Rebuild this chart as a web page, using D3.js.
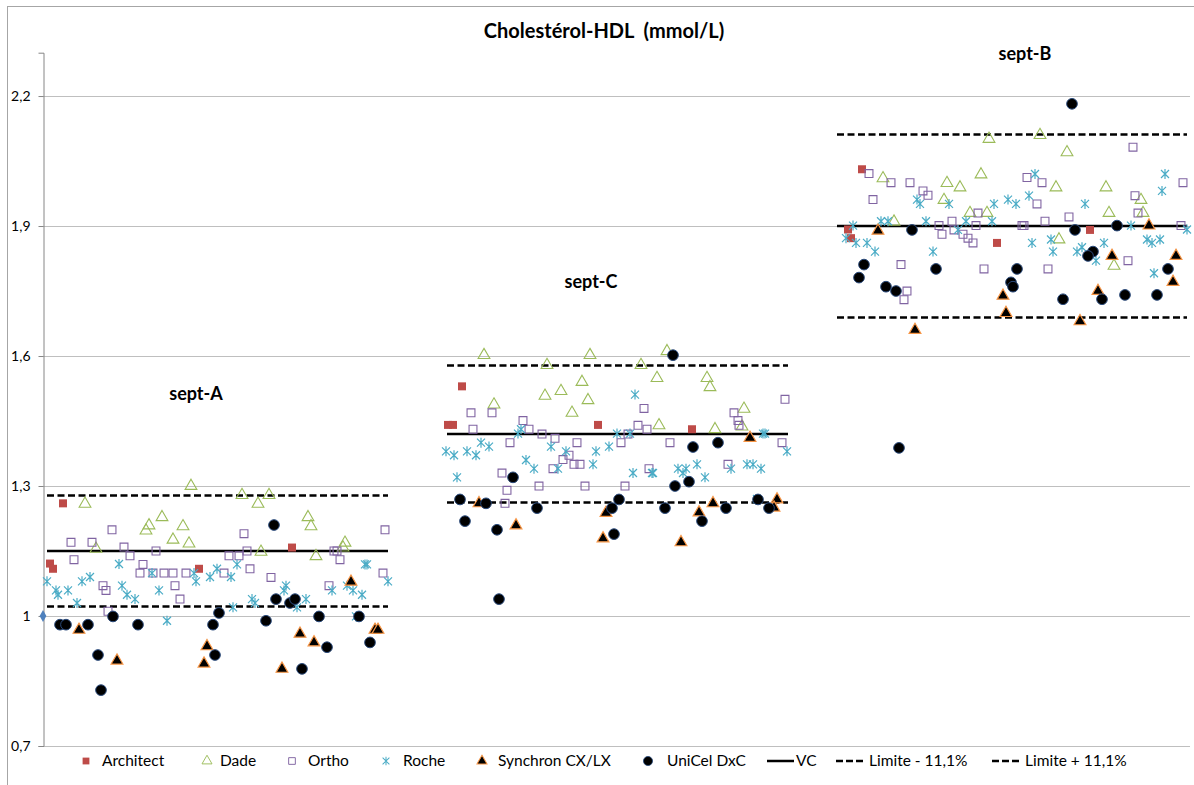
<!DOCTYPE html>
<html>
<head>
<meta charset="utf-8">
<script src="https://cdn.jsdelivr.net/npm/d3@7"></script>
<style>
  body { margin: 0; background: #fff; }
  #chart { width: 1194px; height: 785px; }
  text { font-family: Lato, "Open Sans", sans-serif; fill: #000; }
  .tick-label { font-size: 14px; }
  .legend text { font-size: 15.5px; }
  .title { font-size: 20px; font-weight: bold; white-space: pre; }
  .group-label { font-size: 18px; font-weight: bold; }
</style>
</head>
<body>
<div id="chart"></div>
<script>
// --- data ----------------------------------------------------------------
// x = rank of the lab inside its survey (no axis shown), y = mmol/L
var groups = ['sept-A', 'sept-C', 'sept-B'];
var groupStart = [0.4, 40.4, 79.4];
var groupEnd = [34.5, 74.5, 114.4];
var vcValues = [1.15, 1.42, 1.90];
var lowLimit = [1.022, 1.262, 1.689];
var highLimit = [1.278, 1.578, 2.111];
var groupLabelRank = [15.3, 54.8, 98.2];
var groupLabelValue = [1.498, 1.757, 2.284];
var yTicks = [0.7, 1.0, 1.3, 1.6, 1.9, 2.2];

var architect = [
  [2.0, 1.260], [0.7, 1.121], [1.0, 1.109], [15.6, 1.109], [24.9, 1.158],
  [41.9, 1.530], [40.5, 1.441], [41.0, 1.441], [55.5, 1.441], [64.9, 1.431],
  [81.9, 2.031], [80.5, 1.892], [80.8, 1.872], [95.4, 1.861], [104.7, 1.891]
];

var dade = [
  [14.8, 1.300], [4.2, 1.259], [11.9, 1.228], [10.6, 1.209], [10.3, 1.197],
  [14.0, 1.207], [13.0, 1.176], [14.6, 1.167], [5.3, 1.155], [19.9, 1.279],
  [22.6, 1.279], [21.5, 1.259], [26.5, 1.228], [26.8, 1.207], [21.8, 1.148],
  [27.3, 1.138], [30.2, 1.169], [30.0, 1.158],
  [44.1, 1.602], [50.4, 1.579], [54.7, 1.602], [53.9, 1.540], [51.8, 1.519],
  [50.2, 1.508], [54.5, 1.498], [52.9, 1.469], [45.1, 1.488], [62.4, 1.611],
  [59.8, 1.579], [61.4, 1.549], [66.4, 1.549], [66.7, 1.528], [70.1, 1.478],
  [61.6, 1.440], [67.2, 1.431], [69.9, 1.437],
  [94.6, 2.101], [84.0, 2.010], [90.4, 1.999], [91.7, 1.989], [93.8, 2.019],
  [90.1, 1.960], [85.1, 1.910], [92.7, 1.930], [94.4, 1.930], [99.7, 2.110],
  [102.4, 2.070], [101.3, 1.989], [106.3, 1.989], [106.6, 1.930], [109.8, 1.960],
  [110.0, 1.930], [101.6, 1.869], [107.1, 1.808]
];

var ortho = [
  [6.9, 1.199], [2.8, 1.170], [4.9, 1.170], [8.1, 1.159], [11.3, 1.150],
  [8.7, 1.139], [3.1, 1.130], [10.0, 1.119], [9.7, 1.099], [11.0, 1.099],
  [12.1, 1.099], [13.0, 1.099], [14.3, 1.099], [6.0, 1.070], [6.3, 1.059],
  [13.2, 1.070], [13.7, 1.039], [6.5, 1.011], [20.1, 1.190], [34.2, 1.199],
  [20.4, 1.150], [18.6, 1.139], [19.6, 1.139], [20.7, 1.109], [18.1, 1.099],
  [22.8, 1.089], [29.1, 1.150], [29.4, 1.150], [29.7, 1.130], [34.0, 1.099],
  [28.6, 1.070],
  [42.8, 1.469], [44.9, 1.469], [43.0, 1.431], [48.0, 1.451], [48.6, 1.431],
  [49.9, 1.420], [51.2, 1.410], [46.7, 1.400], [53.4, 1.400], [52.6, 1.371],
  [52.0, 1.361], [53.1, 1.350], [53.7, 1.350], [51.0, 1.340], [45.9, 1.330],
  [46.4, 1.290], [46.2, 1.260], [49.6, 1.300], [54.2, 1.300], [57.8, 1.400],
  [74.2, 1.500], [60.1, 1.479], [69.1, 1.469], [69.5, 1.451], [69.6, 1.440],
  [59.5, 1.440], [60.4, 1.431], [58.5, 1.420], [62.7, 1.400], [73.9, 1.400],
  [60.6, 1.340], [68.5, 1.350], [58.2, 1.300],
  [82.6, 2.021], [84.8, 2.000], [86.7, 2.000], [83.0, 1.961], [88.0, 1.981],
  [88.5, 1.971], [93.5, 1.930], [89.6, 1.901], [90.9, 1.911], [89.9, 1.881],
  [91.1, 1.891], [92.0, 1.881], [92.5, 1.872], [93.0, 1.861], [93.3, 1.901],
  [85.8, 1.811], [94.1, 1.801], [86.4, 1.750], [86.1, 1.730], [109.0, 2.082],
  [98.4, 2.012], [99.9, 2.000], [99.4, 1.951], [114.0, 2.000], [109.2, 1.970],
  [109.5, 1.930], [102.6, 1.921], [100.2, 1.911], [97.9, 1.901], [98.1, 1.901],
  [113.8, 1.901], [100.5, 1.801], [108.5, 1.820]
];

var roche = [
  [0.4, 1.080], [1.3, 1.059], [1.5, 1.049], [2.5, 1.059], [3.9, 1.080],
  [4.7, 1.090], [3.4, 1.030], [7.6, 1.120], [7.9, 1.070], [8.4, 1.049],
  [9.2, 1.039], [10.9, 1.099], [11.6, 1.059], [12.4, 0.989], [15.1, 1.099],
  [15.3, 1.080], [16.7, 1.090], [17.4, 1.109], [19.4, 1.119], [18.8, 1.090],
  [19.0, 1.020], [20.9, 1.039], [21.2, 1.030], [24.3, 1.070], [24.1, 1.059],
  [26.3, 1.039], [25.4, 1.020], [32.2, 1.119], [32.4, 1.119], [34.5, 1.080],
  [30.4, 1.070], [31.0, 1.059], [31.9, 1.049], [28.9, 1.059], [31.3, 0.999],
  [40.3, 1.380], [41.1, 1.371], [42.4, 1.380], [43.3, 1.371], [43.8, 1.400],
  [44.6, 1.391], [41.4, 1.320], [47.5, 1.421], [47.8, 1.431], [48.3, 1.360],
  [49.1, 1.340], [50.8, 1.391], [52.3, 1.380], [51.5, 1.340], [55.3, 1.380],
  [56.6, 1.391], [55.0, 1.350], [57.4, 1.421], [58.7, 1.421], [59.2, 1.511],
  [59.0, 1.330], [60.9, 1.330], [61.0, 1.330], [63.5, 1.340], [64.3, 1.340],
  [64.0, 1.330], [65.4, 1.350], [66.2, 1.320], [68.8, 1.340], [70.4, 1.350],
  [71.0, 1.350], [71.8, 1.340], [72.0, 1.421], [72.2, 1.421], [74.4, 1.380],
  [71.4, 1.270],
  [81.0, 1.901], [80.3, 1.872], [81.3, 1.861], [82.4, 1.861], [83.2, 1.841],
  [83.8, 1.911], [84.5, 1.911], [87.4, 1.961], [87.7, 1.951], [90.6, 1.951],
  [88.3, 1.911], [89.0, 1.841], [91.5, 1.891], [92.3, 1.911], [94.9, 1.911],
  [95.1, 1.951], [96.5, 1.961], [97.3, 1.951], [99.2, 2.020], [98.6, 1.970],
  [104.2, 1.951], [98.9, 1.861], [100.8, 1.869], [101.0, 1.841], [103.4, 1.841],
  [103.9, 1.851], [105.3, 1.820], [106.1, 1.861], [108.8, 1.901], [110.4, 1.869],
  [110.9, 1.861], [111.7, 1.869], [111.1, 1.791], [112.2, 2.020], [111.9, 1.981],
  [114.4, 1.892]
];

var synchron = [
  [3.6, 0.968], [7.4, 0.897], [16.4, 0.930], [16.1, 0.890], [25.7, 0.959],
  [27.1, 0.939], [23.9, 0.878], [30.8, 1.079], [33.2, 0.968], [33.5, 0.968],
  [43.6, 1.260], [47.3, 1.209], [56.3, 1.238], [56.0, 1.179], [70.7, 1.411],
  [67.0, 1.260], [65.6, 1.239], [63.8, 1.170], [73.4, 1.269], [73.1, 1.250],
  [83.5, 1.889], [87.2, 1.660], [96.0, 1.739], [96.3, 1.699], [103.7, 1.680],
  [105.5, 1.750], [106.9, 1.831], [110.6, 1.901], [113.3, 1.831], [113.0, 1.771]
];

var unicel = [
  [1.7, 0.980], [2.3, 0.980], [4.5, 0.980], [7.0, 0.999], [9.5, 0.980],
  [5.5, 0.910], [5.8, 0.829], [17.0, 0.980], [17.2, 0.910], [17.6, 1.007],
  [23.1, 1.210], [23.3, 1.039], [24.7, 1.030], [25.2, 1.039], [22.3, 0.989],
  [27.6, 0.999], [28.4, 0.928], [25.9, 0.878], [31.6, 0.999], [32.7, 0.939],
  [47.0, 1.320], [41.7, 1.269], [44.3, 1.260], [49.4, 1.249], [42.2, 1.219],
  [45.4, 1.199], [45.6, 1.039], [57.6, 1.269], [56.9, 1.249], [57.1, 1.189],
  [63.0, 1.602], [65.0, 1.390], [67.5, 1.400], [63.2, 1.300], [64.6, 1.310],
  [62.2, 1.249], [65.9, 1.219], [68.3, 1.249], [71.5, 1.269], [72.6, 1.249],
  [86.9, 1.891], [82.1, 1.811], [81.6, 1.781], [84.3, 1.760], [85.3, 1.750],
  [89.3, 1.801], [85.6, 1.388], [96.8, 1.770], [97.0, 1.760], [97.4, 1.801],
  [102.9, 2.182], [103.2, 1.891], [107.4, 1.901], [105.0, 1.841], [104.5, 1.831],
  [102.0, 1.731], [105.9, 1.731], [108.2, 1.741], [111.4, 1.741], [112.5, 1.801]
];

// lone marker sitting on the axis at 1,0
var vcMarker = [[0, 1.0]];

var legendNames = ['Architect', 'Dade', 'Ortho', 'Roche', 'Synchron CX/LX',
  'UniCel DxC', 'VC', 'Limite - 11,1%', 'Limite + 11,1%'];

// --- chart ---------------------------------------------------------------
(function (d3) {
  'use strict';

  var width = 1194, height = 785;

  var svg = d3.select('#chart')
    .append('svg')
    .attr('width', width)
    .attr('height', height);

  // chart area border
  svg.append('rect')
    .attr('x', 7.5).attr('y', 6.5)
    .attr('width', 1190).attr('height', 800)
    .attr('fill', '#fff')
    .attr('stroke', '#a6a6a6');

  var x = d3.scaleLinear().domain([0, 114.7]).range([43, 1190]);
  var y = d3.scaleLinear().domain([0.7, 2.3]).range([746, 52.7]);

  // gridlines
  svg.append('g')
    .selectAll('line')
    .data(yTicks)
    .enter()
    .append('line')
    .attr('x1', x(0)).attr('x2', x(114.7))
    .attr('y1', function (d) { return Math.round(y(d)) + 0.5; })
    .attr('y2', function (d) { return Math.round(y(d)) + 0.5; })
    .attr('stroke', '#bfbfbf')
    .attr('stroke-width', 1);

  // y axis
  var yAxis = d3.axisLeft(y)
    .tickValues(yTicks)
    .tickSize(5)
    .tickPadding(8)
    .tickFormat(function (d) { return String(d).replace('.', ','); });

  var gy = svg.append('g')
    .attr('transform', 'translate(' + (Math.round(x(0)) + 0.5) + ',0)')
    .call(yAxis);
  gy.select('.domain').attr('stroke', '#868686');
  gy.selectAll('.tick line').attr('stroke', '#868686');
  gy.selectAll('.tick text')
    .attr('class', 'tick-label')
    .attr('font-family', null)
    .attr('font-size', null)
    .attr('fill', '#000');

  // VC and limit lines per survey
  var lineData = [];
  groups.forEach(function (g, i) {
    lineData.push({ v: vcValues[i], i: i, dash: null });
    lineData.push({ v: lowLimit[i], i: i, dash: '7,3.5' });
    lineData.push({ v: highLimit[i], i: i, dash: '7,3.5' });
  });

  svg.append('g')
    .selectAll('line')
    .data(lineData)
    .enter()
    .append('line')
    .attr('x1', function (d) { return x(groupStart[d.i]); })
    .attr('x2', function (d) { return x(groupEnd[d.i]); })
    .attr('y1', function (d) { return y(d.v); })
    .attr('y2', function (d) { return y(d.v); })
    .attr('stroke', '#000')
    .attr('stroke-width', 2.5)
    .attr('stroke-dasharray', function (d) { return d.dash; });

  // marker shapes
  var asterisk = 'M-4,-4L4,4M-4,4L4,-4M0,-5L0,5';
  var styles = [
    { name: 'Architect', data: architect, path: d3.symbol(d3.symbolSquare, 64)(), fill: '#be4b48', stroke: 'none', sw: 0 },
    { name: 'Dade', data: dade, path: d3.symbol(d3.symbolTriangle, 60)(), fill: 'none', stroke: '#9bbb59', sw: 1.1 },
    { name: 'Ortho', data: ortho, path: d3.symbol(d3.symbolSquare, 62)(), fill: 'none', stroke: '#8064a2', sw: 1.1 },
    { name: 'Roche', data: roche, path: asterisk, fill: 'none', stroke: '#4bacc6', sw: 1.2 },
    { name: 'Synchron CX/LX', data: synchron, path: d3.symbol(d3.symbolTriangle, 60)(), fill: '#000', stroke: '#f79646', sw: 1.2 },
    { name: 'UniCel DxC', data: unicel, path: d3.symbol(d3.symbolCircle, 90)(), fill: '#000', stroke: '#2b4b7c', sw: 1 }
  ];

  styles.forEach(function (s) {
    svg.append('g')
      .selectAll('path')
      .data(s.data)
      .enter()
      .append('path')
      .attr('d', s.path)
      .attr('transform', function (d) { return 'translate(' + x(d[0]) + ',' + y(d[1]) + ')'; })
      .attr('fill', s.fill)
      .attr('stroke', s.stroke)
      .attr('stroke-width', s.sw);
  });

  svg.append('g')
    .selectAll('path')
    .data(vcMarker)
    .enter()
    .append('path')
    .attr('d', d3.symbol(d3.symbolDiamond, 40)())
    .attr('transform', function (d) { return 'translate(' + x(d[0]) + ',' + y(d[1]) + ')'; })
    .attr('fill', '#4f81bd');

  // survey labels
  svg.append('g')
    .selectAll('text')
    .data(groups)
    .enter()
    .append('text')
    .attr('class', 'group-label')
    .attr('x', function (d, i) { return x(groupLabelRank[i]); })
    .attr('y', function (d, i) { return y(groupLabelValue[i]); })
    .attr('text-anchor', 'middle')
    .text(function (d) { return d; });

  // title (double space kept)
  svg.append('text')
    .attr('class', 'title')
    .attr('x', 604)
    .attr('y', 38)
    .attr('text-anchor', 'middle')
    .text('Cholestérol-HDL  (mmol/L)');

  // legend
  var legendX = [86, 207, 292, 386, 482, 648, 767, 836, 992];
  var legendTextX = [102, 220, 308, 403, 498, 667, 796, 869, 1025];
  var legendY = 761;
  var legend = svg.append('g').attr('class', 'legend');

  legendNames.forEach(function (name, i) {
    var g = legend.append('g');
    if (i < styles.length) {
      var s = styles[i];
      g.append('path')
        .attr('d', s.path)
        .attr('transform', 'translate(' + legendX[i] + ',' + legendY + ') scale(0.85)')
        .attr('fill', s.fill)
        .attr('stroke', s.stroke)
        .attr('stroke-width', s.sw);
    } else {
      g.append('line')
        .attr('x1', legendX[i]).attr('x2', legendX[i] + 27)
        .attr('y1', legendY).attr('y2', legendY)
        .attr('stroke', '#000')
        .attr('stroke-width', 2.5)
        .attr('stroke-dasharray', i === 6 ? null : '7,3');
    }
    g.append('text')
      .attr('x', legendTextX[i])
      .attr('y', legendY + 5)
      .text(name);
  });

})(window.d3);
</script>
</body>
</html>
